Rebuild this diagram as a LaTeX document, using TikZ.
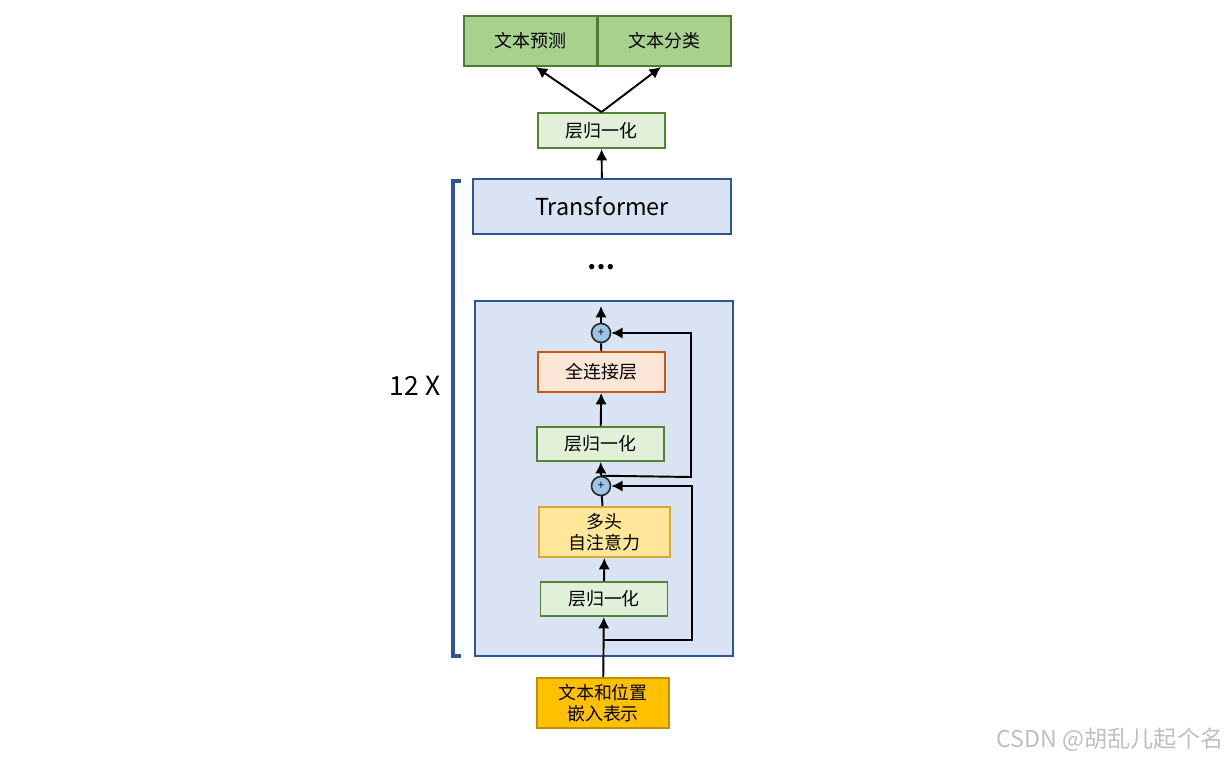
\documentclass[tikz,border=0pt]{standalone}
\usepackage{fontspec}
\setmainfont{Noto Sans CJK SC}
\usetikzlibrary{arrows.meta}
\definecolor{headfill}{HTML}{A9D18E}
\definecolor{headline}{HTML}{4E7A32}
\definecolor{normfill}{HTML}{E2F0D9}
\definecolor{normline}{HTML}{548235}
\definecolor{blockfill}{HTML}{DAE3F3}
\definecolor{blockline}{HTML}{2F5597}
\definecolor{ffnfill}{HTML}{FBE5D6}
\definecolor{ffnline}{HTML}{C55A11}
\definecolor{attnfill}{HTML}{FFE699}
\definecolor{attnline}{HTML}{D6A93A}
\definecolor{embfill}{HTML}{FFC000}
\definecolor{embline}{HTML}{BF9000}
\definecolor{addfill}{HTML}{9DC3E6}
\tikzset{
  box/.style={draw, line width=1.1pt, align=center, inner sep=0pt,
    font=\fontsize{10.2}{11.8}\selectfont},
  headbox/.style={box, fill=headfill, draw=headline, minimum width=2.66cm, minimum height=1cm},
  normbox/.style={box, fill=normfill, draw=normline, minimum width=2.54cm, minimum height=0.68cm},
  addnode/.style={circle, draw=black!85, fill=addfill, line width=0.9pt, inner sep=0pt,
    minimum size=0.38cm, font=\fontsize{6.5}{6.5}\selectfont},
  arr/.style={line width=1.1pt, -{Latex[length=6.5pt,width=6.5pt]}},
  line/.style={line width=1.1pt}
}
\begin{document}
\begin{tikzpicture}[x=0.02cm, y=-0.02cm]
      \useasboundingbox (0,0) rectangle (1230,760);

      % output heads
      \node [headbox] (pred) at (530.5, 41) {文本预测};
      \node [headbox] (cls) at (664.5, 41) {文本分类};
      \node [normbox, minimum height=0.7cm] (lnout) at (601.5, 130.5) {层归一化};

      % stacked layers
      \node [box, fill=blockfill, draw=blockline, minimum width=5.16cm, minimum height=1.1cm,
        font=\fontsize{13.3}{15}\selectfont] (trans) at (602, 206.5) {Transformer};
      \node [font=\fontsize{14}{16}\selectfont\bfseries] (dots) at (601, 267) {\dots};
      \node [box, fill=blockfill, draw=blockline, minimum width=5.16cm, minimum height=7.1cm] (block) at (604, 478.5) {};

      % inside one layer
      \node [addnode] (addA) at (601, 333) {+};
      \node [box, fill=ffnfill, draw=ffnline, minimum width=2.54cm, minimum height=0.8cm] (ffn) at (601.5, 372) {全连接层};
      \node [normbox] (lnA) at (600.5, 444) {层归一化};
      \node [addnode] (addB) at (601, 486) {+};
      \node [box, fill=attnfill, draw=attnline, minimum width=2.62cm, minimum height=1cm] (attn) at (604.5, 532) {多头\\自注意力};
      \node [normbox] (lnB) at (604, 599) {层归一化};

      % input
      \node [box, fill=embfill, draw=embline, minimum width=2.64cm, minimum height=1cm] (emb) at (603, 703) {文本和位置\\嵌入表示};

      \coordinate (out) at (601, 306);
      \coordinate (skipA) at (691, 477);
      \coordinate (forkB) at (603, 640);
      \coordinate (skipB) at (692, 640);

      \draw [arr] (emb) -- (lnB);
      \draw [arr] (lnB) -- (attn);
      \draw [line] (attn) -- (addB);
      \draw [arr] (addB) -- (lnA);
      \draw [arr] (lnA) -- (ffn);
      \draw [line] (ffn) -- (addA);
      \draw [arr] (addA) -- (out);
      \draw [arr] (forkB) -- (skipB) |- (addB.east);
      \draw [arr] (addB.north) -- (skipA) |- (addA.east);

      \draw [arr] (trans) -- (lnout);
      \draw [arr] (lnout.north) -- ([xshift=3]pred.south);
      \draw [arr] (lnout.north) -- ([xshift=-2]cls.south);

      % repeat bracket
      \draw [blockline, line width=2.2pt] (461, 181) -- (453, 181) -- (453, 656) -- (461, 656);
      \node [font=\fontsize{15}{17}\selectfont] (times) at (415, 386) {12 X};

      \node [text=black!25, font=\fontsize{13.2}{15}\selectfont] (mark) at (1110, 740) {CSDN @胡乱儿起个名};
    \end{tikzpicture}
\end{document}
